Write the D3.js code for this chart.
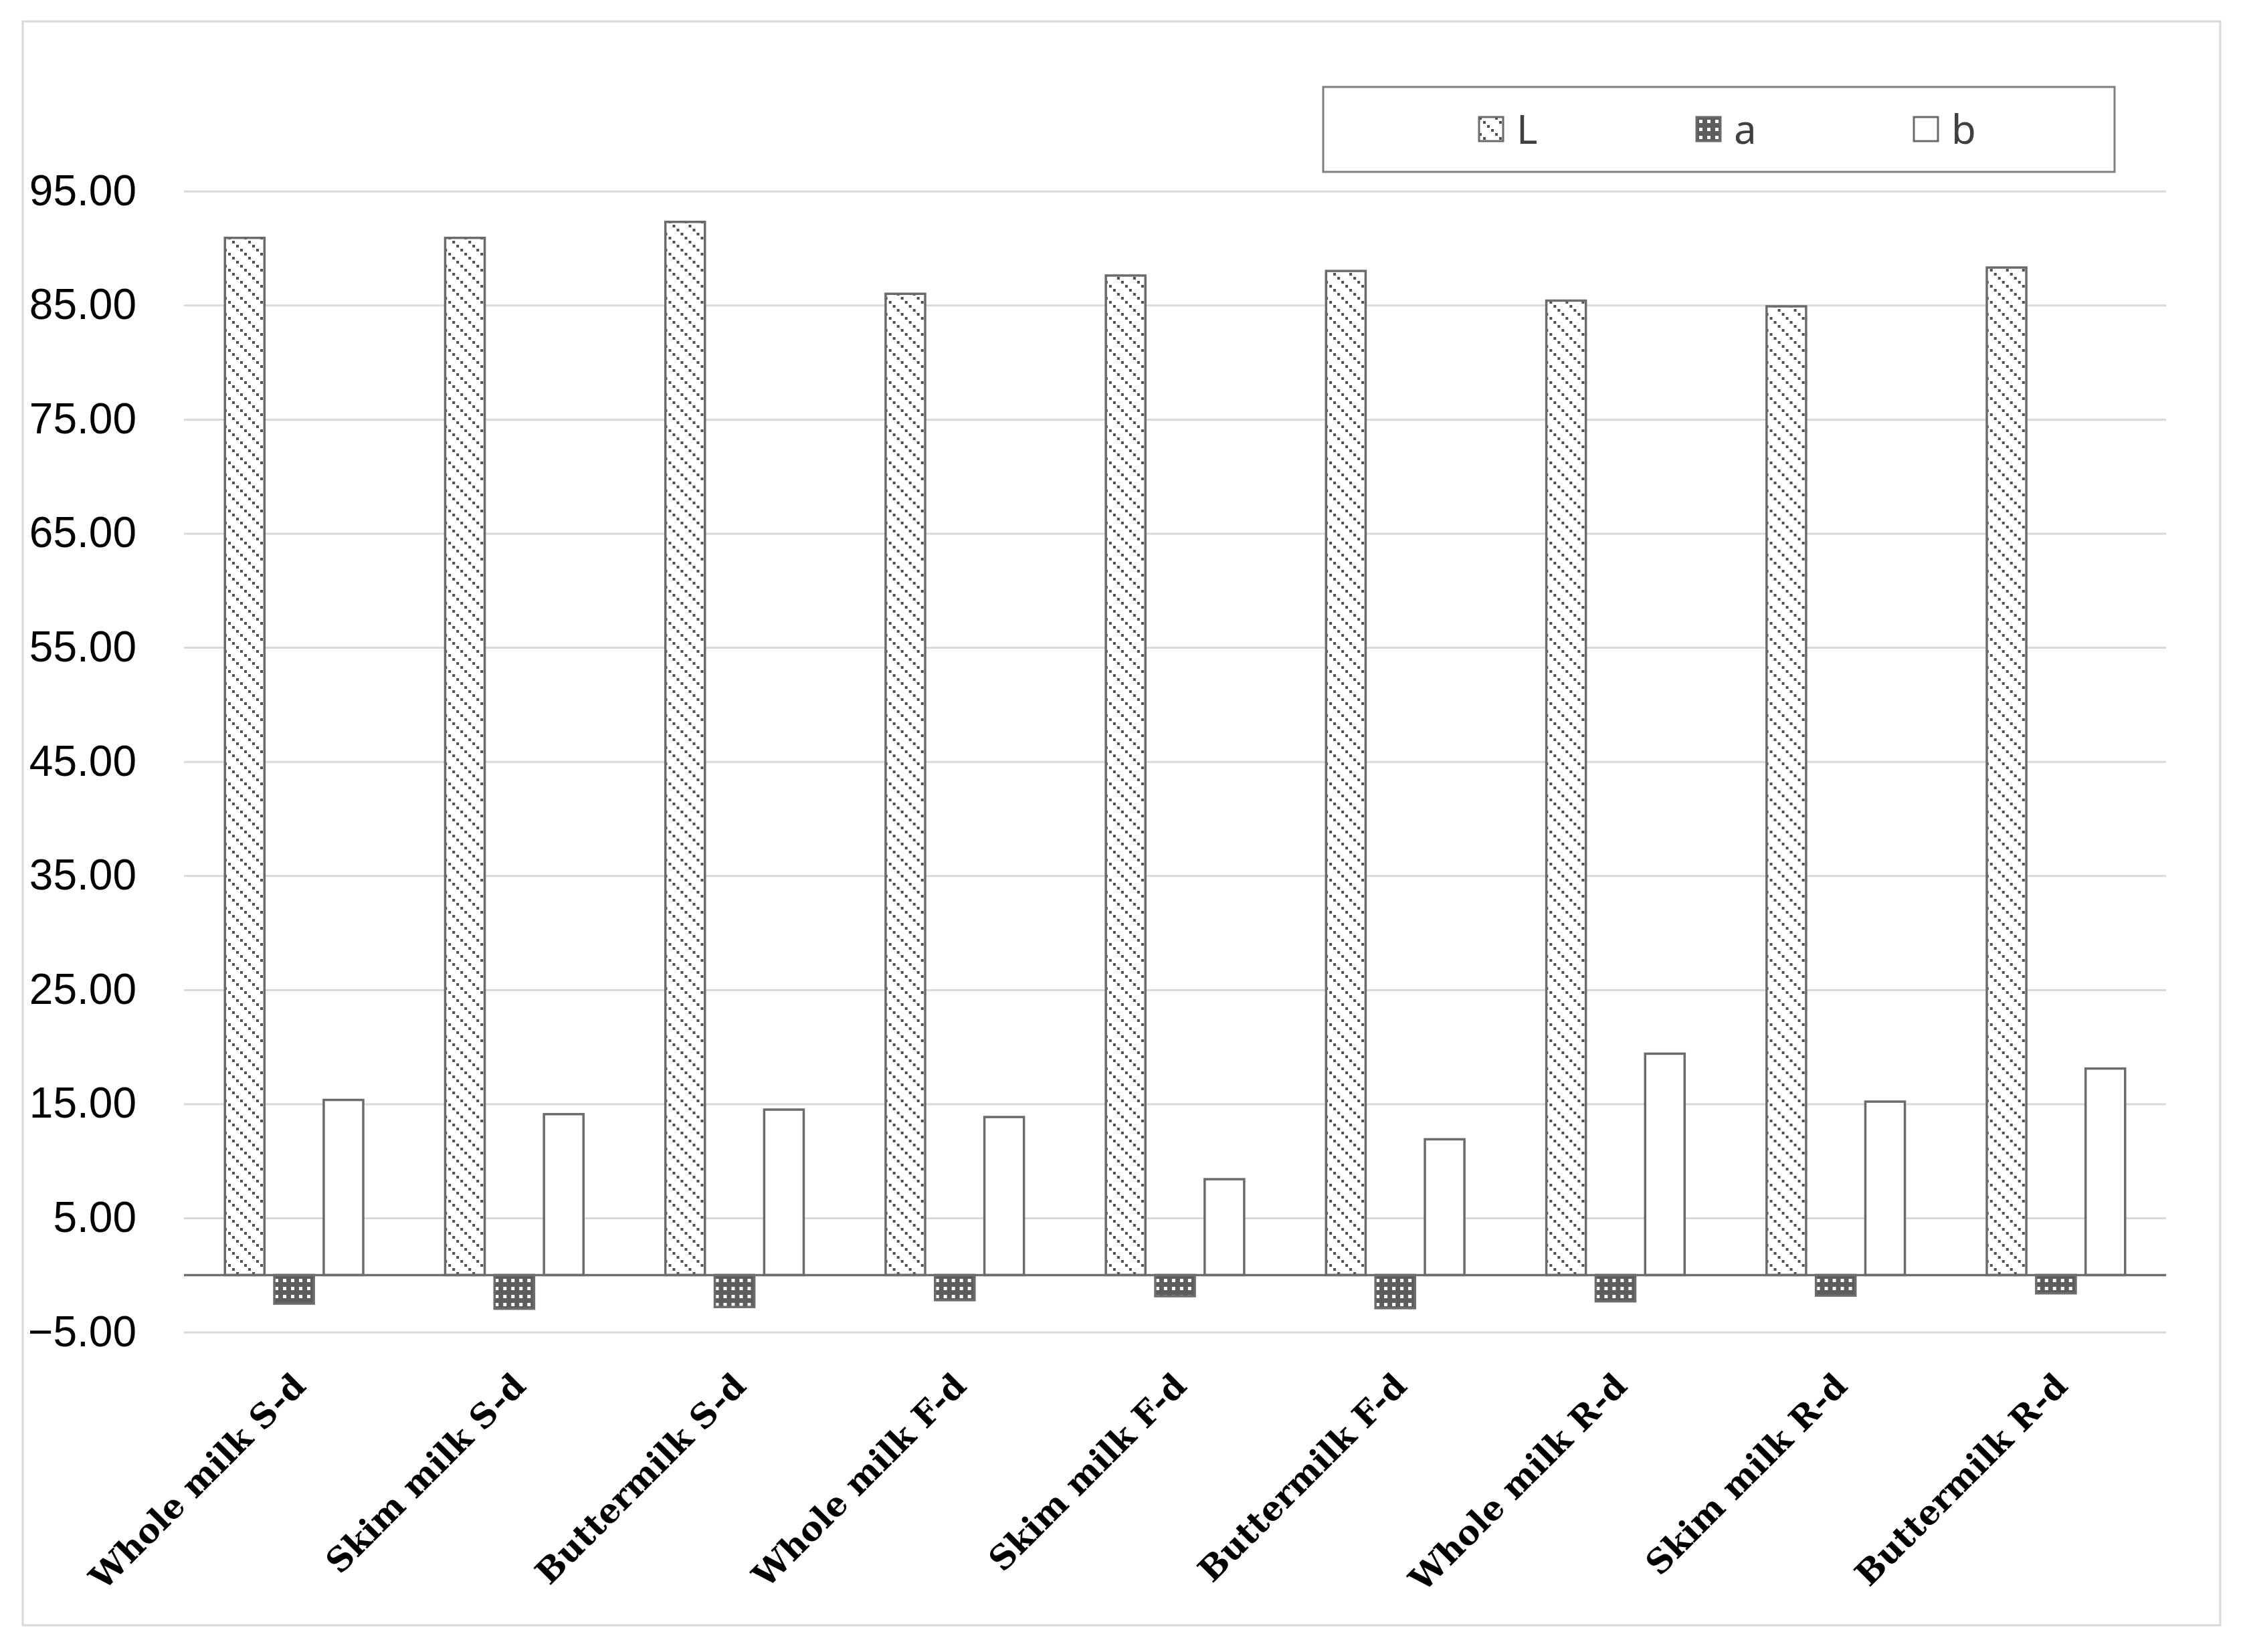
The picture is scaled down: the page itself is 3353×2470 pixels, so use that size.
<!DOCTYPE html>
<html>
<head>
<meta charset="utf-8">
<title>Colour L a b</title>
<script src="https://d3js.org/d3.v7.min.js"></script>
<style>
  body { margin: 0; background: #fff; }
  svg { display: block; }
</style>
</head>
<body>
<div id="viz"></div>
<script>
// data
var categories = ["Whole milk S-d", "Skim milk S-d", "Buttermilk S-d",
                  "Whole milk F-d", "Skim milk F-d", "Buttermilk F-d",
                  "Whole milk R-d", "Skim milk R-d", "Buttermilk R-d"];
var series = ["L", "a", "b"];
var valuesL = [90.9, 90.9, 92.3, 86.0, 87.6, 88.0, 85.4, 84.9, 88.3];
var valuesA = [-2.5, -2.95, -2.8, -2.2, -1.85, -2.9, -2.3, -1.8, -1.6];
var valuesB = [15.35, 14.1, 14.5, 13.85, 8.4, 11.9, 19.4, 15.2, 18.1];
var yTicks = [-5, 5, 15, 25, 35, 45, 55, 65, 75, 85, 95];

var W = 3353, H = 2470;
var plot = {left: 275, right: 3238, top: 285.7, bottom: 1991.7};

var svg = d3.select("#viz").append("svg")
    .attr("width", W).attr("height", H);

svg.append("rect").attr("width", W).attr("height", H).attr("fill", "#fff");

// pattern fills
var defs = svg.append("defs");
var pL = defs.append("pattern").attr("id", "patL")
    .attr("patternUnits", "userSpaceOnUse").attr("width", 24).attr("height", 24);
pL.append("rect").attr("width", 24).attr("height", 24).attr("fill", "#fff");
[0, 6, 12, 18].forEach(function(k) {
  pL.append("rect").attr("x", k).attr("y", k).attr("width", 4).attr("height", 4).attr("fill", "#505050");
});
var pA = defs.append("pattern").attr("id", "patA")
    .attr("patternUnits", "userSpaceOnUse").attr("width", 12).attr("height", 12);
pA.append("rect").attr("width", 12).attr("height", 12).attr("fill", "#5c5c5c");
pA.append("rect").attr("x", 4).attr("y", 4).attr("width", 5).attr("height", 5).attr("fill", "#fff");

var fills = {L: "url(#patL)", a: "url(#patA)", b: "#fff"};

// chart frame
svg.append("rect")
    .attr("x", 34).attr("y", 32).attr("width", 3285).attr("height", 2398)
    .attr("fill", "none").attr("stroke", "#d9d9d9").attr("stroke-width", 3);

var x0 = d3.scaleBand().domain(categories).range([plot.left, plot.right]);
var x1 = d3.scaleBand().domain(series)
    .range([x0.bandwidth() * 0.186, x0.bandwidth() * 0.814])
    .paddingInner(0.2);
var y = d3.scaleLinear().domain([-5, 95]).range([plot.bottom, plot.top]);

// gridlines + y labels
var yAxis = d3.axisLeft(y).tickValues(yTicks)
    .tickSize(-(plot.right - plot.left)).tickPadding(71)
    .tickFormat(d3.format(".2f"));
var gy = svg.append("g").attr("transform", "translate(" + plot.left + ",0)").call(yAxis);
gy.select(".domain").remove();
gy.selectAll(".tick line").attr("stroke", "#d9d9d9").attr("stroke-width", 3);
gy.selectAll(".tick text")
    .attr("font-family", "'Liberation Sans', Arial, sans-serif")
    .attr("font-size", 64).attr("fill", "#000");

// bars
var rows = categories.map(function(c, i) {
  return {cat: c, vals: [
    {s: "L", v: valuesL[i]}, {s: "a", v: valuesA[i]}, {s: "b", v: valuesB[i]}]};
});
var groups = svg.selectAll("g.grp").data(rows).enter().append("g")
    .attr("class", "grp")
    .attr("transform", function(d) { return "translate(" + x0(d.cat) + ",0)"; });
groups.selectAll("rect").data(function(d) { return d.vals; }).enter().append("rect")
    .attr("x", function(d) { return x1(d.s); })
    .attr("width", x1.bandwidth())
    .attr("y", function(d) { return y(Math.max(0, d.v)); })
    .attr("height", function(d) { return Math.abs(y(d.v) - y(0)); })
    .attr("fill", function(d) { return fills[d.s]; })
    .attr("stroke", "#6b6b6b").attr("stroke-width", 3.5);

// zero line
svg.append("line")
    .attr("x1", plot.left).attr("x2", plot.right)
    .attr("y1", y(0)).attr("y2", y(0))
    .attr("stroke", "#6e6e6e").attr("stroke-width", 3.5);

// category labels
svg.selectAll("text.cat").data(categories).enter().append("text")
    .attr("class", "cat")
    .attr("transform", function(d) {
      return "translate(" + (x0(d) + x0.bandwidth() / 2 + 20) + ",2075) rotate(-45)";
    })
    .attr("text-anchor", "end")
    .attr("font-family", "'DejaVu Serif', serif")
    .attr("font-weight", "bold")
    .attr("font-size", 50)
    .attr("fill", "#000")
    .text(function(d) { return d; });

// legend
var lg = svg.append("g");
lg.append("rect")
    .attr("x", 1978).attr("y", 130).attr("width", 1183).attr("height", 127)
    .attr("fill", "#fff").attr("stroke", "#7f7f7f").attr("stroke-width", 3);
var item = lg.selectAll("g.item").data(series).enter().append("g")
    .attr("class", "item")
    .attr("transform", function(d, i) { return "translate(" + (2211 + i * 325) + ",175)"; });
item.append("rect")
    .attr("width", 36).attr("height", 36)
    .attr("fill", function(d) { return fills[d]; })
    .attr("stroke", "#6b6b6b").attr("stroke-width", 3);
item.append("text")
    .attr("x", 56).attr("y", 18).attr("dy", "0.36em")
    .attr("font-family", "'Noto Sans', sans-serif")
    .attr("font-size", 60).attr("fill", "#404040")
    .text(function(d) { return d; });
</script>
</body>
</html>
